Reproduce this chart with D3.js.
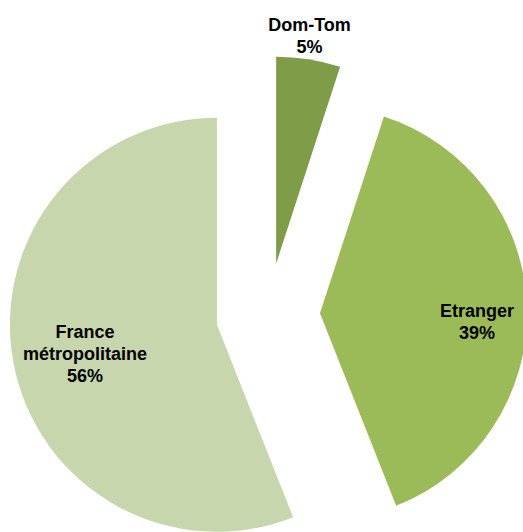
<!DOCTYPE html>
<html><head><meta charset="utf-8">
<script src="https://cdn.jsdelivr.net/npm/d3@7"></script>
<style>html,body{margin:0;padding:0;background:#fff;}svg{display:block;}</style>
</head><body>
<svg id="chart" width="523" height="532"></svg>
<script>
const categories = ["Dom-Tom", "Etranger", "France métropolitaine"];
const values = [5, 39, 56];
const labelLines = [["Dom-Tom", "5%"], ["Etranger", "39%"], ["France", "métropolitaine", "56%"]];
const colors = ["#7f9c48", "#9bbb59", "#c7d6ac"];

const svg = d3.select("#chart");
const cx = 268, cy = 315, r = 207, explode = 52;
const pie = d3.pie().sort(null).value(d => d)(values);
const arc = d3.arc().innerRadius(0).outerRadius(r);
const g = svg.append("g").attr("transform", `translate(${cx},${cy})`);

const labelPos = [[41.5, -284], [209, 2], [-183, 23]];

pie.forEach((p, i) => {
  const mid = (p.startAngle + p.endAngle) / 2;
  const dx = Math.sin(mid) * explode, dy = -Math.cos(mid) * explode;
  g.append("path").attr("d", arc(p)).attr("fill", colors[i])
    .attr("transform", `translate(${dx},${dy})`);
});

pie.forEach((p, i) => {
  const lines = labelLines[i];
  const [lx, ly] = labelPos[i];
  const t = g.append("text").attr("text-anchor", "middle")
    .attr("font-family", "Liberation Sans, Arial, sans-serif")
    .attr("font-weight", "bold").attr("font-size", 18).attr("fill", "#000");
  lines.forEach((ln, k) => {
    t.append("tspan").attr("x", lx).attr("y", ly + k * 22).text(ln);
  });
});
</script>
</body></html>
